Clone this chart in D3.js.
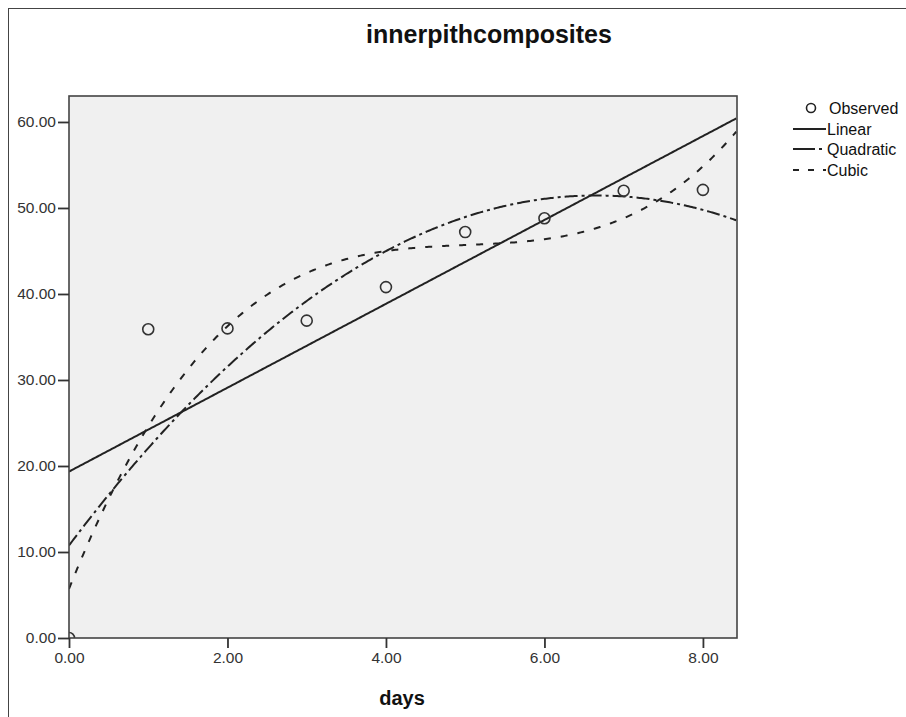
<!DOCTYPE html>
<html><head><meta charset="utf-8">
<script src="https://cdn.jsdelivr.net/npm/d3@7"></script>
<style>body{margin:0;background:#fff}svg{display:block;font-family:"Liberation Sans",Arial,sans-serif}</style>
</head><body><svg id="c" width="906" height="717"></svg>
<script>
const title = "innerpithcomposites";
const xLabel = "days";
const days = [0, 1, 2, 3, 4, 5, 6, 7, 8];
const observed = [0.0, 35.9, 36.0, 36.9, 40.8, 47.2, 48.8, 52.0, 52.1];
const xTicks = [0, 2, 4, 6, 8];
const yTicks = [0, 10, 20, 30, 40, 50, 60];
const legendLabels = ["Observed", "Linear", "Quadratic", "Cubic"];

// least-squares polynomial fit of the observed points
function polyfit(xs, ys, deg) {
  const n = deg + 1;
  const A = Array.from({length: n}, () => new Array(n + 1).fill(0));
  for (let k = 0; k < xs.length; k++) {
    for (let i = 0; i < n; i++) {
      for (let j = 0; j < n; j++) A[i][j] += Math.pow(xs[k], i + j);
      A[i][n] += ys[k] * Math.pow(xs[k], i);
    }
  }
  for (let i = 0; i < n; i++) {
    let p = i;
    for (let r = i + 1; r < n; r++) if (Math.abs(A[r][i]) > Math.abs(A[p][i])) p = r;
    [A[i], A[p]] = [A[p], A[i]];
    for (let r = 0; r < n; r++) if (r !== i) {
      const f = A[r][i] / A[i][i];
      for (let c = i; c <= n; c++) A[r][c] -= f * A[i][c];
    }
  }
  return A.map((row, i) => row[n] / row[i]);
}
const evalPoly = (c, x) => c.reduce((s, v, i) => s + v * Math.pow(x, i), 0);

const svg = d3.select("#c");
const L = 69, T = 96, R = 737, B = 638;
const x = d3.scaleLinear().domain([0, 8.43]).range([L, R]);
const y = d3.scaleLinear().domain([0, 63.02]).range([B, T]);
const ink = "#222";

// outer frame
svg.append("rect").attr("x", 8.5).attr("y", 8.5).attr("width", 920).attr("height", 720)
  .attr("fill", "#fff").attr("stroke", "#444").attr("stroke-width", 1);

svg.append("text").attr("x", 489).attr("y", 43).attr("text-anchor", "middle")
  .attr("font-weight", "bold").attr("font-size", 25).attr("fill", "#111").text(title);

svg.append("defs").append("clipPath").attr("id", "clip")
  .append("rect").attr("x", L).attr("y", T).attr("width", R - L).attr("height", B - T);

svg.append("rect").attr("x", L).attr("y", T).attr("width", R - L).attr("height", B - T)
  .attr("fill", "#f0f0f0");

const fits = [
  {deg: 1, dash: null},
  {deg: 2, dash: "13,4,3,4"},
  {deg: 3, dash: "7,10"}
];
const xs = d3.range(0, 8.43 + 1e-9, 0.02);
const g = svg.append("g").attr("clip-path", "url(#clip)");
fits.forEach(f => {
  const c = polyfit(days, observed, f.deg);
  const line = d3.line().x(d => x(d)).y(d => y(evalPoly(c, d)));
  g.append("path").attr("d", line(xs)).attr("fill", "none").attr("stroke", ink)
    .attr("stroke-width", 2).attr("stroke-dasharray", f.dash);
});
g.selectAll("circle").data(days).join("circle")
  .attr("cx", d => x(d)).attr("cy", (d, i) => y(observed[i])).attr("r", 5.5)
  .attr("fill", "none").attr("stroke", "#333").attr("stroke-width", 1.6);

svg.append("rect").attr("x", L).attr("y", T).attr("width", R - L).attr("height", B - T)
  .attr("fill", "none").attr("stroke", "#444").attr("stroke-width", 1.6);

const xAxis = svg.append("g").attr("transform", `translate(0,${B})`)
  .call(d3.axisBottom(x).tickValues(xTicks).tickFormat(d3.format(".2f")).tickSize(10).tickPadding(4));
const yAxis = svg.append("g").attr("transform", `translate(${L},0)`)
  .call(d3.axisLeft(y).tickValues(yTicks).tickFormat(d3.format(".2f")).tickSize(11).tickPadding(2));
[xAxis, yAxis].forEach(a => {
  a.select(".domain").remove();
  a.selectAll("line").attr("stroke", "#333").attr("stroke-width", 1.8);
  a.selectAll("text").attr("font-size", 15.5).attr("fill", "#333")
    .attr("font-family", "'Liberation Sans',Arial,sans-serif");
});

svg.append("text").attr("x", 402).attr("y", 705).attr("text-anchor", "middle")
  .attr("font-weight", "bold").attr("font-size", 20).attr("fill", "#111").text(xLabel);

// legend
const lg = svg.append("g");
const rowY = [108, 129, 149, 170];
lg.append("circle").attr("cx", 811).attr("cy", rowY[0]).attr("r", 4.5)
  .attr("fill", "none").attr("stroke", "#222").attr("stroke-width", 1.6);
const dashes = [null, null, "22,4,3,4", "6,9"];
[1, 2, 3].forEach(i => {
  lg.append("line").attr("x1", 793).attr("x2", 826).attr("y1", rowY[i]).attr("y2", rowY[i])
    .attr("stroke", ink).attr("stroke-width", 2).attr("stroke-dasharray", dashes[i]);
});
legendLabels.forEach((t, i) => {
  lg.append("text").attr("x", i === 0 ? 829 : 827).attr("y", rowY[i] + 6)
    .attr("font-size", 16).attr("fill", "#111").text(t);
});
</script></body></html>
